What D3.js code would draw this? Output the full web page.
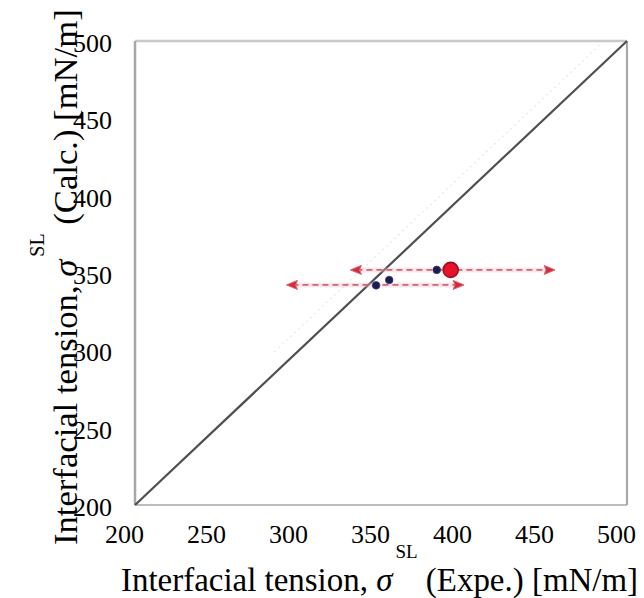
<!DOCTYPE html>
<html>
<head>
<meta charset="utf-8">
<script src="https://cdn.jsdelivr.net/npm/d3@7"></script>
<style>
  html, body { margin: 0; padding: 0; background: #fff; }
  svg { display: block; }
  svg text { font-family: "Liberation Serif", "Times New Roman", serif !important; fill: #000; }
</style>
</head>
<body>
<svg id="chart" width="644" height="598"></svg>
<script>
// Axis ticks
const xTicks = [200, 250, 300, 350, 400, 450, 500];
const yTicks = [200, 250, 300, 350, 400, 450, 500];

// Individual measurements (experimental vs calculated), mN/m
const pointExpe = [384, 347, 355];
const pointCalc = [352, 342, 345.5];

// Mean value shown as the large marker
const meanExpe = [392.5];
const meanCalc = [352];

// Experimental scatter ranges drawn as dashed bars
const rangeCalc = [352, 342.3];
const rangeLow  = [335, 296];
const rangeHigh = [452.5, 397];

// Reference line y = x
const parity = [200, 500];

const svg = d3.select("#chart");
const x = d3.scaleLinear().domain([200, 500]).range([135, 627]);
const y = d3.scaleLinear().domain([200, 500]).range([505, 41]);

// Faint dotted band above the parity line
svg.append("line")
  .attr("x1", x(285)).attr("y1", y(285 + 14))
  .attr("x2", x(484)).attr("y2", y(484 + 14))
  .attr("stroke", "#e6e6e6").attr("stroke-width", 1.4)
  .attr("stroke-dasharray", "1.5,4");

// Plot frame
const frame = svg.append("g");
frame.append("line").attr("x1", x(200)).attr("x2", x(500)).attr("y1", y(500)).attr("y2", y(500))
  .attr("stroke", "#c9c9c9").attr("stroke-width", 2.5);
frame.append("line").attr("x1", x(200)).attr("x2", x(500)).attr("y1", y(200)).attr("y2", y(200))
  .attr("stroke", "#bdbdbd").attr("stroke-width", 2.2);
frame.append("line").attr("x1", x(200)).attr("x2", x(200)).attr("y1", y(200)).attr("y2", y(500))
  .attr("stroke", "#a8a8a8").attr("stroke-width", 2.5);
frame.append("line").attr("x1", x(500)).attr("x2", x(500)).attr("y1", y(200)).attr("y2", y(500))
  .attr("stroke", "#a8a8a8").attr("stroke-width", 2.2);

// Parity line
svg.append("line")
  .attr("x1", x(parity[0])).attr("y1", y(parity[0]))
  .attr("x2", x(parity[1])).attr("y2", y(parity[1]))
  .attr("stroke", "#4f4f4f").attr("stroke-width", 2.2);

// Axes
const fontSize = 26;
const serif = "'Liberation Serif', 'Times New Roman', serif";
const xAxis = svg.append("g").attr("transform", `translate(0,${y(200)})`)
  .call(d3.axisBottom(x).tickValues(xTicks).tickSize(0).tickPadding(20).tickFormat(d3.format("d")));
const yAxis = svg.append("g").attr("transform", `translate(${x(200)},0)`)
  .call(d3.axisLeft(y).tickValues(yTicks).tickSize(0).tickPadding(23).tickFormat(d3.format("d")));
[xAxis, yAxis].forEach(g => {
  g.attr("font-family", serif).attr("font-size", fontSize);
  g.select(".domain").remove();
  g.selectAll("text").style("font-family", serif).style("font-size", fontSize + "px").attr("fill", "#000");
});
xAxis.selectAll("text").attr("dx", -11);
yAxis.selectAll("text").attr("dy", "0.4em");

// Dashed range bars with arrow ends
const bars = svg.append("g");
rangeCalc.forEach((c, i) => {
  const yy = y(c), x0 = x(rangeLow[i]), x1 = x(rangeHigh[i]);
  bars.append("line").attr("x1", x0).attr("x2", x1).attr("y1", yy).attr("y2", yy)
    .attr("stroke", "#f3b8c2").attr("stroke-width", 5).attr("stroke-opacity", 0.35);
  bars.append("line").attr("x1", x0).attr("x2", x1).attr("y1", yy).attr("y2", yy)
    .attr("stroke", "#c9687a").attr("stroke-width", 1.8).attr("stroke-dasharray", "6,4");
  const head = (px, dir) => {
    bars.append("path")
      .attr("d", `M${px + dir * 6},${yy} L${px - dir * 5},${yy - 4.5} L${px - dir * 3},${yy} L${px - dir * 5},${yy + 4.5} Z`)
      .attr("fill", "#d42a40").attr("stroke", "#e0606f").attr("stroke-width", 1);
  };
  head(x0, -1);
  head(x1, 1);
});

// Individual points
svg.append("g").selectAll("circle").data(pointExpe).join("circle")
  .attr("cx", d => x(d)).attr("cy", (d, i) => y(pointCalc[i]))
  .attr("r", 3.8).attr("fill", "#1d1a4e").attr("stroke", "#3c3a78").attr("stroke-width", 0.8);

// Mean marker
svg.append("g").selectAll("circle").data(meanExpe).join("circle")
  .attr("cx", d => x(d)).attr("cy", (d, i) => y(meanCalc[i]))
  .attr("r", 7.5).attr("fill", "#e8122c").attr("stroke", "#9c0f1e").attr("stroke-width", 1.6);

// Axis titles: "Interfacial tension, σ^SL (...) [mN/m]"
function title(g, label) {
  const t = g.append("text").attr("font-size", 26);
  t.append("tspan").text("Interfacial tension, ");
  t.append("tspan").attr("font-style", "italic").text("σ");
  t.append("tspan").attr("class", "sup").attr("font-size", 15).attr("dx", 3).attr("dy", -33).text("SL");
  t.append("tspan").attr("class", "rest").attr("dy", 33).text(" (" + label + ") [mN/m]");
  return t;
}
function fit(t, target) {
  const w = t.node().getBBox().width;
  const s = target / w;
  t.attr("font-size", 26 * s);
  t.select(".sup").attr("font-size", 15 * s);
}

const xt = title(svg.append("g").attr("transform", "translate(121,591)"), "Expe.");
fit(xt, 518);

const yt = title(svg.append("g").attr("transform", "translate(77,545) rotate(-90)"), "Calc.");
fit(yt, 537);
</script>
</body>
</html>
